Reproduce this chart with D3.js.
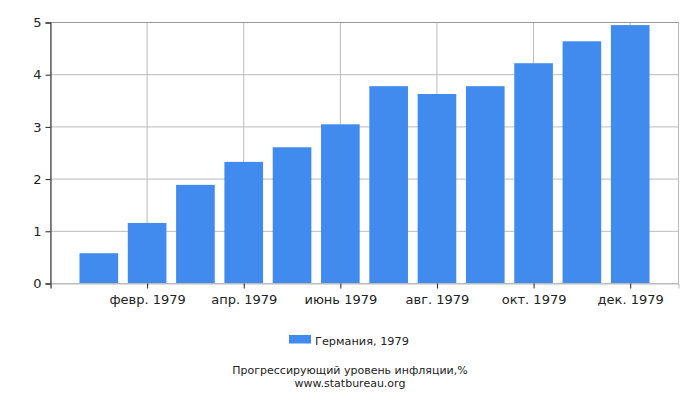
<!DOCTYPE html>
<html>
<head>
<meta charset="utf-8">
<script src="https://cdn.jsdelivr.net/npm/d3@7"></script>
<style>
  body { margin: 0; background: #fff; }
  text { font-family: "DejaVu Sans", sans-serif; fill: #222; }
</style>
</head>
<body>
<script>
const months = ["янв. 1979", "февр. 1979", "март 1979", "апр. 1979", "май 1979", "июнь 1979",
                "июль 1979", "авг. 1979", "сент. 1979", "окт. 1979", "нояб. 1979", "дек. 1979"];
const values = [0.58, 1.16, 1.89, 2.33, 2.61, 3.05, 3.78, 3.63, 3.78, 4.22, 4.64, 4.95];
const yTicks = [0, 1, 2, 3, 4, 5];
const seriesName = "Германия, 1979";
const title = "Прогрессирующий уровень инфляции,%";
const source = "www.statbureau.org";

const width = 700, height = 400;
const margin = { top: 22.5, right: 21.5, bottom: 116.5, left: 50.5 };
const iw = width - margin.left - margin.right;
const ih = height - margin.top - margin.bottom;

const svg = d3.select("body").append("svg")
    .attr("width", width)
    .attr("height", height);

// slots 0..13, months sit on 1..12
const x = d3.scaleLinear().domain([0, 13]).range([0, iw]);
const y = d3.scaleLinear().domain([0, 5]).range([ih, 0]);
const slot = x(1) - x(0);
const barW = slot * 0.8;

const g = svg.append("g").attr("transform", `translate(${margin.left},${margin.top})`);

// grid
g.append("g").selectAll("line")
    .data(yTicks.slice(1))
    .enter().append("line")
    .attr("x1", 0).attr("x2", iw)
    .attr("y1", d => y(d)).attr("y2", d => y(d))
    .attr("stroke", "#bbb");

const xTickIdx = [2, 4, 6, 8, 10, 12];
g.append("g").selectAll("line")
    .data(xTickIdx)
    .enter().append("line")
    .attr("x1", d => x(d)).attr("x2", d => x(d))
    .attr("y1", 0).attr("y2", ih)
    .attr("stroke", "#bbb");

// bars
g.append("g").selectAll("rect")
    .data(values)
    .enter().append("rect")
    .attr("x", (d, i) => x(i + 1) - barW / 2)
    .attr("y", d => y(d))
    .attr("width", barW)
    .attr("height", d => ih - y(d))
    .attr("fill", "#418bee");

// frame
g.append("rect")
    .attr("width", iw).attr("height", ih)
    .attr("fill", "none")
    .attr("stroke", "#bbb");
g.append("line")
    .attr("x1", 0).attr("x2", iw).attr("y1", 0).attr("y2", 0)
    .attr("stroke", "#999");

// y axis
const yAxis = g.append("g")
    .call(d3.axisLeft(y).tickValues(yTicks).tickSize(5).tickPadding(4).tickFormat(d3.format("d")));
yAxis.select(".domain").attr("stroke", "#222");
yAxis.selectAll(".tick line").attr("stroke", "#222");
yAxis.selectAll("text").style("font-size", "13px").attr("fill", "#222");

// x axis
const xAxis = g.append("g")
    .attr("transform", `translate(0,${ih})`)
    .call(d3.axisBottom(x).tickValues([0].concat(xTickIdx)).tickSize(5).tickPadding(6)
        .tickFormat(d => d === 0 ? "" : months[d - 1]));
xAxis.select(".domain").attr("stroke", "#bbb");
xAxis.selectAll(".tick line").attr("stroke", "#222");
xAxis.selectAll("text").style("font-size", "13px").attr("fill", "#222");

// legend
const leg = svg.append("g").attr("transform", "translate(289,335)");
leg.append("rect").attr("width", 22).attr("height", 8.5).attr("fill", "#418bee");
leg.append("text").attr("x", 26).attr("y", 10).style("font-size", "11.3px").text(seriesName);

// captions
svg.append("text").attr("x", 350).attr("y", 374).attr("text-anchor", "middle")
    .style("font-size", "11px").text(title);
svg.append("text").attr("x", 350).attr("y", 386.5).attr("text-anchor", "middle")
    .style("font-size", "11px").text(source);
</script>
</body>
</html>
